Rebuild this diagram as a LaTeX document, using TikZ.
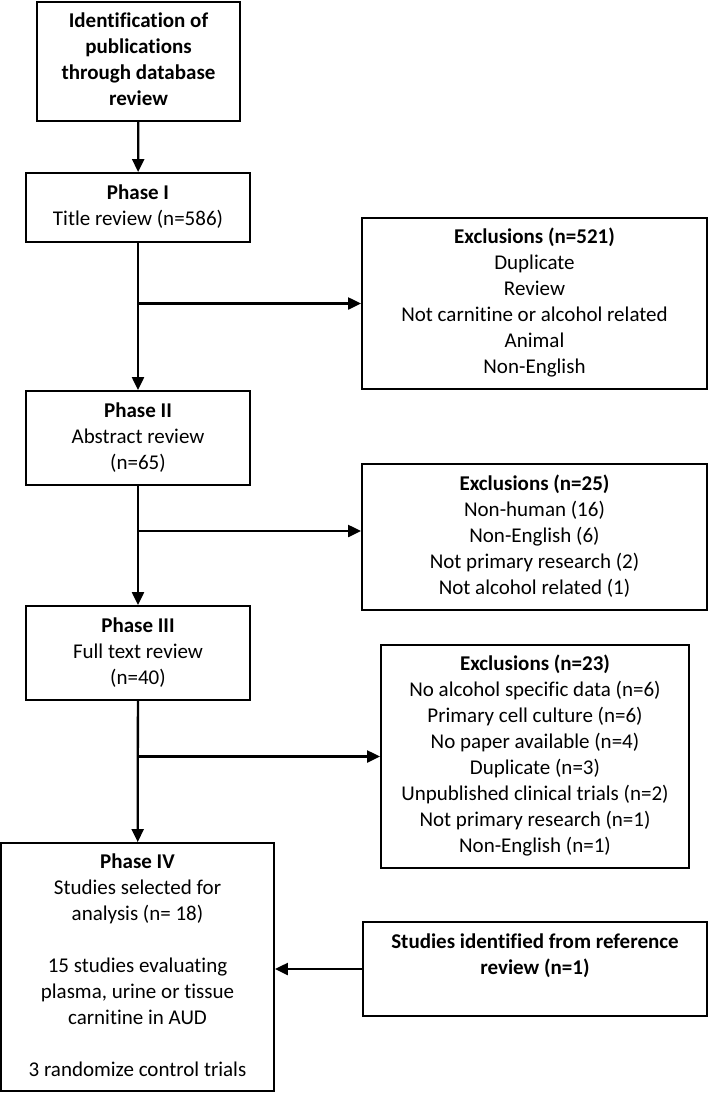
\documentclass[tikz,border=0pt]{standalone}
\usepackage{fontspec}
\setmainfont{Carlito}[Ligatures=NoCommon]
\usetikzlibrary{shapes,arrows.meta}
\usetikzlibrary{calc}

\begin{document}
\begin{tikzpicture}[x=1pt,y=1pt]

\tikzstyle{box} = [draw, line width=1.9, draw=black, fill=white, inner sep=0,
font=\fontsize{21}{26}\selectfont]
\tikzstyle{phase} = [box, minimum width=224, minimum height=94]
\tikzstyle{excl} = [box, minimum width=345]
\tikzstyle{link} = [line width=2.3, -{Triangle[length=13pt,width=12pt]}]

% page
\fill[white] (0,0) rectangle (709,-1093);
\useasboundingbox (0,0) rectangle (709,-1093);

\node [box, minimum width=203, minimum height=119, font=\fontsize{21}{26}\selectfont\bfseries] (ident) at (138.5,-61.5)
{\begin{tabular}{c} Identification of\\ publications\\ through database\\ review\end{tabular}};

\node [phase, minimum height=69] (phase1) at (138,-207.5) {\begin{tabular}{c} \textbf{Phase I}\\ Title review (n=586)\end{tabular}};
\node [phase] (phase2) at (138,-438) {\begin{tabular}{c} \textbf{Phase II}\\ Abstract review\\ (n=65)\end{tabular}};
\node [phase] (phase3) at (138,-653) {\begin{tabular}{c} \textbf{Phase III}\\ Full text review\\ (n=40)\end{tabular}};
\node [phase, minimum width=273, minimum height=248] (phase4) at (137.5,-967)
{\begin{tabular}{c} \textbf{Phase IV}\\ Studies selected for\\ analysis (n= 18)\\[26pt] 15 studies evaluating\\ plasma, urine or tissue\\ carnitine in AUD\\[26pt] 3 randomize control trials\end{tabular}};

\node [excl, minimum height=171] (excl1) at (534.5,-303.5)
{\begin{tabular}{c} \textbf{Exclusions (n=521)}\\ Duplicate\\ Review\\ Not carnitine or alcohol related\\ Animal\\ Non-English\end{tabular}};
\node [excl, minimum height=146] (excl2) at (534.5,-537)
{\begin{tabular}{c} \textbf{Exclusions (n=25)}\\ Non-human (16)\\ Non-English (6)\\ Not primary research (2)\\ Not alcohol related (1)\end{tabular}};
\node [excl, minimum width=308, minimum height=223] (excl3) at (535,-756.5)
{\begin{tabular}{c} \textbf{Exclusions (n=23)}\\ No alcohol specific data (n=6)\\ Primary cell culture (n=6)\\ No paper available (n=4)\\ Duplicate (n=3)\\ Unpublished clinical trials (n=2)\\ Not primary research (n=1)\\ Non-English (n=1)\end{tabular}};

\node [box, minimum width=344, minimum height=94, font=\fontsize{21}{26}\selectfont\bfseries] (studies) at (535,-969)
{\begin{tabular}{c} Studies identified from reference\\ review (n=1)\\ \strut\end{tabular}};

% trunk
\draw[link] (ident) -- (phase1);
\draw[link] (phase1) -- (phase2);
\draw[link] (phase2) -- (phase3);
\draw[link] (phase3) -- (phase4);

% exclusions
\coordinate (b1) at (phase1.south |- excl1.west);
\coordinate (b2) at (138,-531);
\coordinate (b3) at (phase3.south |- excl3.west);
\draw[link] (b1) -- (excl1.west);
\draw[link] (b2) -- (b2 -| excl2.west);
\draw[link] (b3) -- (excl3.west);

\draw[link] (studies.west) -- (studies.west -| phase4.east);

\end{tikzpicture}
\end{document}
